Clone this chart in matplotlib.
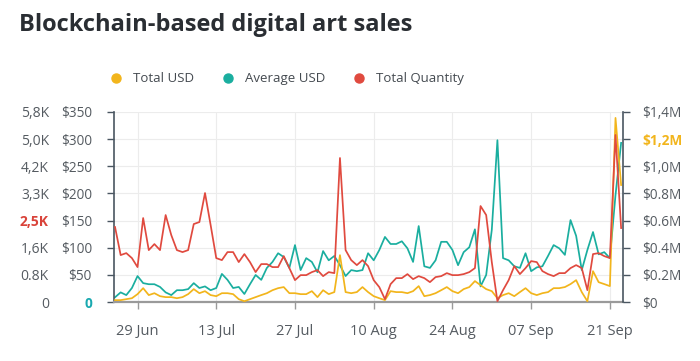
import matplotlib
matplotlib.use('Agg')
import matplotlib.pyplot as plt
import matplotlib.dates as mdates
from matplotlib.lines import Line2D
import pandas as pd

plt.rcParams['font.family'] = ['Open Sans', 'DejaVu Sans']

dates = pd.date_range('2020-06-25', periods=91, freq='D')

# Average USD per sale
avg_usd = [9, 18, 13, 26, 48, 35, 33, 33, 28, 18, 13, 22, 22, 24, 35, 26, 29, 22, 26, 52,
           41, 26, 28, 15, 33, 50, 41, 63, 74, 90, 83, 63, 105, 59, 81, 74, 55, 94, 77, 85,
           68, 48, 59, 57, 59, 90, 77, 96, 120, 107, 107, 112, 99, 74, 140, 66, 63, 77, 111, 111,
           96, 68, 92, 101, 134, 29, 50, 133, 298, 81, 77, 66, 63, 90, 57, 64, 66, 85, 105, 99,
           87, 151, 122, 59, 96, 129, 88, 92, 81, 197, 293]

# Total USD per day
total_usd = [15e3, 15e3, 22e3, 29e3, 59e3, 103e3, 52e3, 66e3, 44e3, 37e3, 37e3, 29e3, 37e3, 59e3,
             96e3, 66e3, 81e3, 52e3, 44e3, 66e3, 66e3, 59e3, 22e3, 7e3, 22e3, 37e3, 52e3, 66e3,
             88e3, 103e3, 111e3, 66e3, 66e3, 59e3, 59e3, 81e3, 37e3, 88e3, 59e3, 74e3, 346e3,
             74e3, 66e3, 74e3, 111e3, 74e3, 44e3, 29e3, 15e3, 81e3, 74e3, 74e3, 66e3, 81e3,
             118e3, 44e3, 52e3, 66e3, 88e3, 111e3, 81e3, 66e3, 96e3, 111e3, 155e3, 125e3, 96e3,
             81e3, 29e3, 52e3, 66e3, 44e3, 74e3, 103e3, 66e3, 52e3, 66e3, 74e3, 103e3, 103e3,
             111e3, 133e3, 162e3, 74e3, 7e3, 228e3, 147e3, 133e3, 118e3, 1356e3, 862e3]

# Total quantity sold per day
total_qty = [2303, 1443, 1504, 1351, 1075, 2579, 1596, 1781, 1596, 2671, 2057, 1596, 1535, 1596,
             2395, 2456, 3346, 2364, 1351, 1289, 1535, 1535, 1228, 1474, 1228, 921, 1167, 1167,
             1075, 1075, 1412, 1044, 675, 829, 829, 921, 982, 798, 921, 890, 4421, 1596, 1289,
             1136, 1289, 1105, 675, 460, 92, 553, 737, 737, 860, 706, 798, 737, 614, 768, 798,
             890, 829, 829, 860, 921, 1044, 2947, 2671, 1228, 30, 368, 675, 1105, 860, 1044,
             1259, 1228, 952, 860, 798, 890, 890, 1044, 1136, 1044, 368, 1474, 1504, 1412, 1351,
             5127, 2272]

avg_ticks = [0, 50, 100, 150, 200, 250, 300, 350]
avg_labels = ['0', '$50', '$100', '$150', '$200', '$250', '$300', '$350']
usd_ticks = [0, 0.2e6, 0.4e6, 0.6e6, 0.8e6, 1.0e6, 1.2e6, 1.4e6]
usd_labels = ['$0', '$0.2M', '$0.4M', '$0.6M', '$0.8M', '$1,0M', '$1,2M', '$1,4M']
qty_ticks = [i * 5833.3 / 7 for i in range(8)]
qty_labels = ['0', '0.8K', '1,6K', '2,5K', '3,3K', '4,2K', '5,0K', '5,8K']
date_ticks = pd.to_datetime(['2020-06-29', '2020-07-13', '2020-07-27', '2020-08-10',
                             '2020-08-24', '2020-09-07', '2020-09-21'])

c_usd = '#F2B51C'
c_avg = '#1AAE9F'
c_qty = '#E04A3F'
c_tick = '#555b61'

fig = plt.figure(figsize=(7, 3.61), dpi=100)
ax = fig.add_axes([0.163, 0.163, 0.727, 0.527])
ax_usd = ax.twinx()
ax_qty = ax.twinx()

ax.plot(dates, avg_usd, color=c_avg, lw=1.25)
ax_usd.plot(dates, total_usd, color=c_usd, lw=1.25)
ax_qty.plot(dates, total_qty, color=c_qty, lw=1.25)

ax.set_xlim(dates[0] - pd.Timedelta(hours=4), dates[-1] + pd.Timedelta(hours=8))
ax.set_ylim(0, 350)
ax_usd.set_ylim(0, 1.4e6)
ax_qty.set_ylim(0, 5833.3)

ax.set_yticks(avg_ticks)
ax.set_yticklabels(avg_labels)
ax_usd.set_yticks(usd_ticks)
ax_usd.set_yticklabels(usd_labels)
ax_qty.set_yticks(qty_ticks)
ax_qty.set_yticklabels(qty_labels)
ax_qty.yaxis.set_ticks_position('left')

ax.set_xticks(date_ticks)
ax.xaxis.set_major_formatter(mdates.DateFormatter('%d %b'))

ax.grid(True, color='#ececec', lw=0.8)
ax.set_axisbelow(True)

for a in (ax, ax_usd, ax_qty):
    for s in a.spines.values():
        s.set_visible(False)
ax.spines['left'].set_visible(True)
ax.spines['left'].set_color('#4a5661')
ax.spines['left'].set_linewidth(1.2)
ax.spines['bottom'].set_visible(True)
ax.spines['bottom'].set_color('#9a9a9a')
ax.spines['bottom'].set_linewidth(1.6)
ax_usd.spines['right'].set_visible(True)
ax_usd.spines['right'].set_color('#4a5661')
ax_usd.spines['right'].set_linewidth(1.2)

ax.tick_params(axis='y', length=5, width=1, color='#4a5661', pad=11,
               labelsize=9.8, labelcolor=c_tick)
ax.tick_params(axis='x', length=5, width=1, color='#9a9a9a', pad=11,
               labelsize=10.5, labelcolor=c_tick)
ax_usd.tick_params(axis='y', length=5, width=1, color='#4a5661', pad=9,
                   labelsize=9.8, labelcolor=c_tick)
ax_qty.tick_params(axis='y', length=0, pad=47, labelsize=10, labelcolor=c_tick)

# highlighted labels
lab = ax.get_yticklabels()[0]
lab.set_color('#19A9B0')
lab.set_fontweight('bold')
lab = ax_usd.get_yticklabels()[6]
lab.set_color('#F2B51C')
lab.set_fontweight('bold')
lab = ax_qty.get_yticklabels()[3]
lab.set_color('#D9433A')
lab.set_fontweight('bold')

fig.text(0.027, 0.93, 'Blockchain-based digital art sales', fontsize=17,
         fontweight='bold', color='#2a2e33', va='center')

handles = [Line2D([], [], marker='o', ls='none', color=c, markersize=6.5)
           for c in (c_usd, c_avg, c_qty)]
fig.legend(handles, ['Total USD', 'Average USD', 'Total Quantity'], ncol=3,
           loc='center', bbox_to_anchor=(0.405, 0.782), frameon=False,
           fontsize=9.5, handletextpad=0.3, columnspacing=1.55,
           labelcolor='#444a50')

fig.savefig('out.png', dpi=100, facecolor='white')
